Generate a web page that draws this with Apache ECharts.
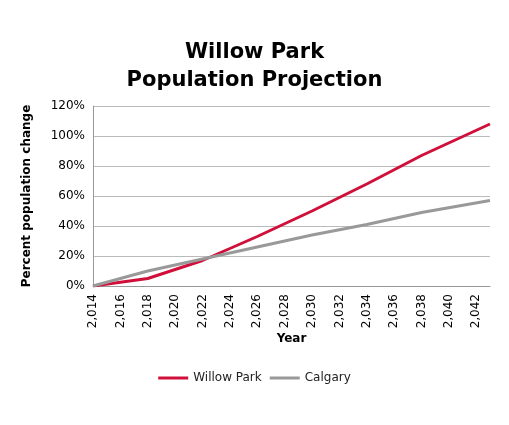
<!DOCTYPE html>
<html>
<head>
<meta charset="utf-8">
<style>
  * { margin: 0; padding: 0; }
  html, body, #main { width: 100%; height: 100%; overflow: hidden; background: #fff; }
</style>
</head>
<body>
<div id="main"></div>
<script src="https://cdn.jsdelivr.net/npm/echarts@6/dist/echarts.min.js"></script>
<script>
var years = [2014, 2016, 2018, 2022, 2026, 2030, 2034, 2038, 2043];
var willowPark = [0, 2.5, 5, 17, 33, 50, 68, 87, 108];
var calgary = [0, 5, 10, 18, 26, 34, 41, 49, 57];

function pairs(vals) {
  return years.map(function (y, i) { return [y, vals[i]]; });
}

var chart = echarts.init(document.getElementById('main'));
chart.setOption({
  animation: false,
  textStyle: { fontFamily: 'DejaVu Sans' },
  title: {
    text: 'Willow Park\nPopulation Projection',
    left: 'center',
    top: 34,
    textStyle: { fontSize: 21, fontWeight: 'bold', color: '#000', lineHeight: 28, fontFamily: 'DejaVu Sans' }
  },
  legend: {
    bottom: 36,
    left: 'center',
    icon: 'rect',
    itemWidth: 30,
    itemHeight: 3,
    textStyle: { fontSize: 12, color: '#222' },
    data: ['Willow Park', 'Calgary']
  },
  grid: { left: 93, right: 19, top: 106, bottom: 139 },
  xAxis: {
    type: 'value',
    min: 2014,
    max: 2043,
    interval: 2,
    name: 'Year',
    nameLocation: 'middle',
    nameGap: 47,
    nameTextStyle: { fontWeight: 'bold', fontSize: 12, color: '#000' },
    axisLine: { lineStyle: { color: '#999' } },
    axisTick: { show: false },
    splitLine: { show: false },
    axisLabel: { rotate: 90, color: '#000', fontSize: 12, showMaxLabel: false }
  },
  yAxis: {
    type: 'value',
    min: 0,
    max: 120,
    interval: 20,
    name: 'Percent population change',
    nameLocation: 'middle',
    nameGap: 60,
    nameTextStyle: { fontWeight: 'bold', fontSize: 12, color: '#000' },
    axisLine: { show: true, lineStyle: { color: '#999' } },
    axisTick: { show: false },
    splitLine: { lineStyle: { color: '#bbb' } },
    axisLabel: { formatter: '{value}%', color: '#000', fontSize: 12 }
  },
  series: [
    { name: 'Willow Park', type: 'line', data: pairs(willowPark), symbol: 'none',
      lineStyle: { color: '#d0103a', width: 3 }, itemStyle: { color: '#d0103a' } },
    { name: 'Calgary', type: 'line', data: pairs(calgary), symbol: 'none',
      lineStyle: { color: '#999999', width: 3 }, itemStyle: { color: '#999999' } }
  ]
});
</script>
</body>
</html>
